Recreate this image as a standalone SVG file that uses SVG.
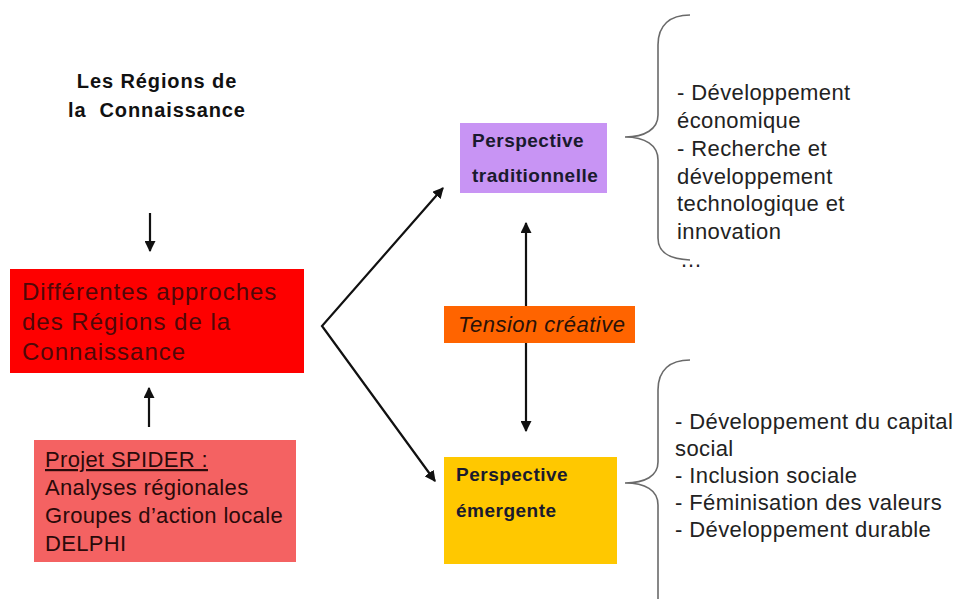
<svg xmlns="http://www.w3.org/2000/svg" width="960" height="599" viewBox="0 0 960 599">
<defs>
<marker id="ah" viewBox="0 0 10 10" refX="9" refY="5" markerWidth="5" markerHeight="5" orient="auto-start-reverse" markerUnits="strokeWidth">
<path d="M0,0 L10,5 L0,10 z" fill="#111"/>
</marker>
<style>
.t{font-family:"Liberation Sans",Arial,sans-serif;}
.conn{stroke:#111;stroke-width:2.2;fill:none;}
.brace{stroke:#6a6a6a;stroke-width:1.6;fill:none;}
.list{font-size:22px;fill:#222;letter-spacing:0.4px;}
.persp{font-size:19px;font-weight:bold;fill:#1a1a2e;letter-spacing:0.5px;}
</style>
</defs>
<rect width="960" height="599" fill="#ffffff"/>

<g id="title">
<text class="t" x="157" y="88" font-size="20" font-weight="bold" fill="#111" text-anchor="middle" letter-spacing="0.9">Les Régions de</text>
<text class="t" x="157" y="117" font-size="20" font-weight="bold" fill="#111" text-anchor="middle" letter-spacing="0.9" xml:space="preserve">la  Connaissance</text>
</g>

<g id="approches">
<rect x="10" y="269" width="294" height="104" fill="#fe0000"/>
<text class="t" font-size="24" fill="#4f0808" letter-spacing="1">
<tspan x="22" y="300">Différentes approches</tspan>
<tspan x="22" y="330">des Régions de la</tspan>
<tspan x="22" y="360">Connaissance</tspan>
</text>
</g>

<g id="spider">
<rect x="34" y="440" width="262" height="122" fill="#f46262"/>
<text class="t" font-size="22" fill="#2a0a0a" letter-spacing="0.35">
<tspan x="45" y="467" text-decoration="underline">Projet SPIDER :</tspan>
<tspan x="45" y="495">Analyses régionales</tspan>
<tspan x="45" y="523">Groupes d’action locale</tspan>
<tspan x="45" y="551">DELPHI</tspan>
</text>
</g>

<g id="traditionnelle">
<rect x="460" y="123" width="147" height="70" fill="#c894f4"/>
<text class="t persp">
<tspan x="472" y="147">Perspective</tspan>
<tspan x="472" y="182">traditionnelle</tspan>
</text>
</g>

<g id="emergente">
<rect x="444" y="457" width="173" height="107" fill="#ffc800"/>
<text class="t persp">
<tspan x="456" y="481">Perspective</tspan>
<tspan x="456" y="517">émergente</tspan>
</text>
</g>

<g id="connectors">
<line class="conn" x1="150" y1="213" x2="150" y2="251" marker-end="url(#ah)"/>
<line class="conn" x1="149" y1="427" x2="149" y2="388" marker-end="url(#ah)"/>
<polyline class="conn" points="443,188 322,326 435,481" marker-start="url(#ah)" marker-end="url(#ah)"/>
<line class="conn" x1="526" y1="223" x2="526" y2="431" marker-start="url(#ah)" marker-end="url(#ah)"/>
</g>

<g id="tension">
<rect x="444" y="306" width="191" height="37" fill="#ff6400"/>
<text class="t" x="458" y="332" font-size="22" font-style="italic" fill="#2a1208" letter-spacing="0.5">Tension créative</text>
</g>

<g id="liste-traditionnelle">
<path class="brace" d="M690,15 C670,15 658,25 658,45 L658,115 C658,129 645,137 625,137 C645,137 658,145 658,160 L658,238 C658,252 668,259 690,260"/>
<text class="t list">
<tspan x="677" y="100">- Développement</tspan>
<tspan x="677" y="128">économique</tspan>
<tspan x="677" y="156">- Recherche et</tspan>
<tspan x="677" y="184">développement</tspan>
<tspan x="677" y="211">technologique et</tspan>
<tspan x="677" y="239">innovation</tspan>
<tspan x="680" y="267">…</tspan>
</text>
</g>

<g id="liste-emergente">
<path class="brace" d="M690,360 C670,360 658,370 658,390 L658,462 C658,476 645,483 625,483 C645,483 658,490 658,505 L658,599"/>
<text class="t list" letter-spacing="0.45">
<tspan x="675" y="429">- Développement du capital</tspan>
<tspan x="675" y="456">social</tspan>
<tspan x="675" y="483">- Inclusion sociale</tspan>
<tspan x="675" y="510">- Féminisation des valeurs</tspan>
<tspan x="675" y="537">- Développement durable</tspan>
</text>
</g>
</svg>
